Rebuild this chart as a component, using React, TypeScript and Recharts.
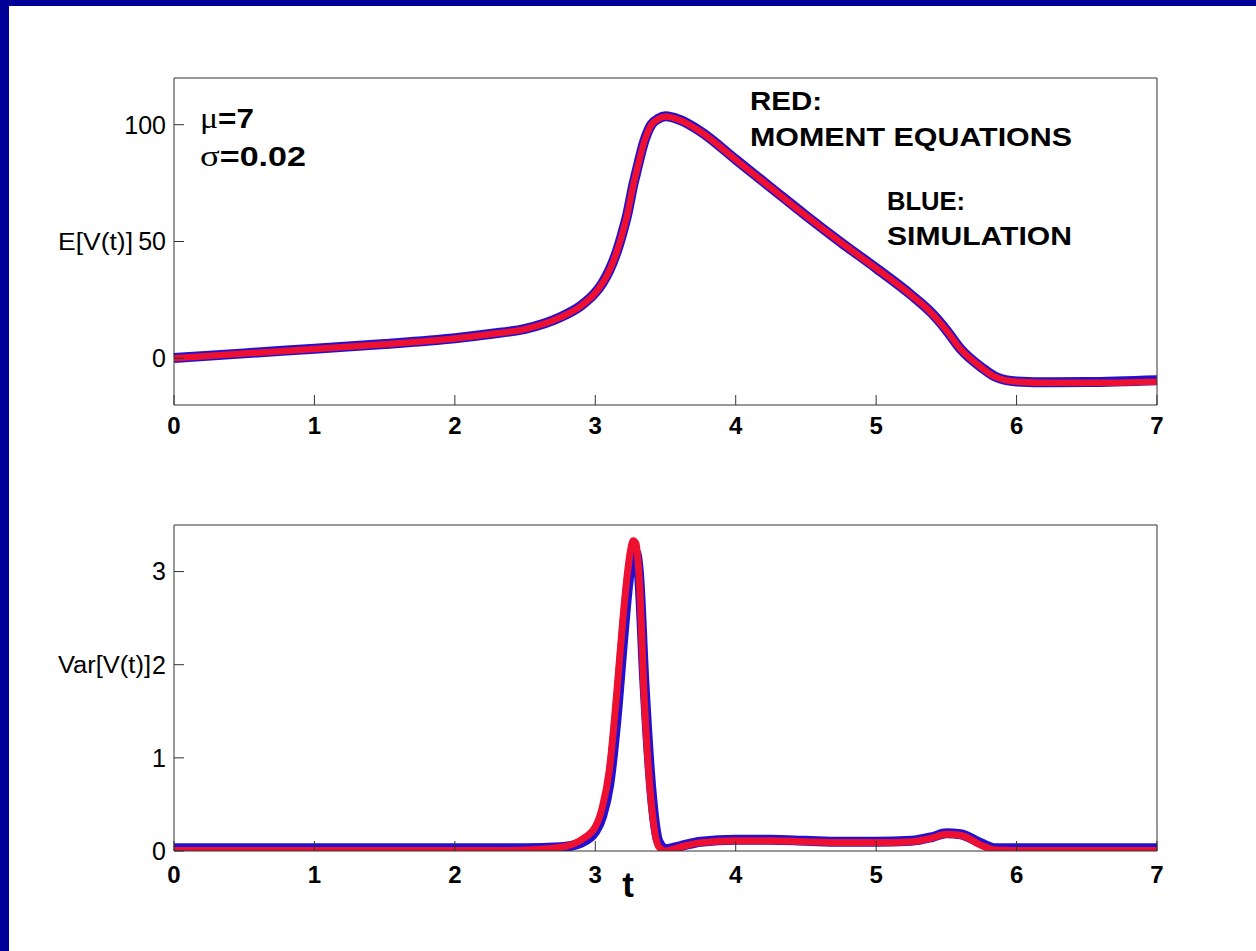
import React from 'react';
import { LineChart, Line, XAxis, YAxis } from 'recharts';

const T = [0, 0.5, 1, 1.5, 2, 2.25, 2.5, 2.75, 2.9, 3.0, 3.05, 3.1, 3.15, 3.2, 3.23, 3.25, 3.27, 3.29, 3.31, 3.35, 3.4, 3.45, 3.5, 3.6, 3.75, 4, 4.25, 4.5, 4.75, 5, 5.25, 5.4, 5.5, 5.6, 5.75, 5.85, 6, 6.25, 6.5, 7];

const MEAN_RED = [0, 2, 4, 6, 8.5, 10.3, 12.5, 17.5, 22.5, 28, 32, 37.5, 45, 55, 62, 68, 74, 79, 84, 93, 100, 102.5, 103.5, 102, 97, 85, 73, 61, 49.5, 38.5, 27, 19, 12, 4, -4, -8, -10, -10.5, -10.5, -10];
const MEAN_BLUE = [0.1, 2.1, 4.1, 6.1, 8.6, 10.4, 12.6, 17.6, 22.6, 28.1, 32.1, 37.6, 45.1, 55.1, 62.1, 68.1, 74.1, 79.1, 84.1, 93.1, 100.1, 102.6, 103.6, 102.1, 97.1, 85.1, 73.1, 61.1, 49.6, 38.6, 27.1, 19.1, 12.1, 4.1, -3.9, -7.9, -9.9, -10.3, -10.2, -9.4];

const VAR_RED = [0.005, 0.005, 0.005, 0.005, 0.005, 0.005, 0.01, 0.04, 0.12, 0.26, 0.47, 0.87, 1.65, 2.55, 3.0, 3.22, 3.33, 3.3, 3.0, 1.6, 0.5, 0.05, 0.0, 0.04, 0.09, 0.11, 0.11, 0.1, 0.09, 0.09, 0.1, 0.14, 0.18, 0.17, 0.06, 0.01, 0.005, 0.005, 0.005, 0.005];
const VAR_BLUE = [0.03, 0.03, 0.03, 0.03, 0.03, 0.03, 0.03, 0.04, 0.09, 0.21, 0.38, 0.72, 1.4, 2.3, 2.8, 3.05, 3.2, 3.2, 3.0, 1.8, 0.65, 0.1, 0.02, 0.05, 0.1, 0.12, 0.12, 0.11, 0.1, 0.1, 0.11, 0.15, 0.19, 0.18, 0.08, 0.03, 0.03, 0.03, 0.03, 0.03];

const X_TICKS = [0, 1, 2, 3, 4, 5, 6, 7];
const MEAN_TICKS = [0, 50, 100];
const VAR_TICKS = [0, 1, 2, 3];

const meanData = T.map((t, i) => ({ t, red: MEAN_RED[i], blue: MEAN_BLUE[i] }));
const varData = T.map((t, i) => ({ t, red: VAR_RED[i], blue: VAR_BLUE[i] }));

const FONT = '"Liberation Sans", Arial, Helvetica, sans-serif';
const AX = '#333333';
const RED = '#ee1030';
const BLUE = '#2410d0';
const xTickStyle = { fill: '#000', fontSize: 24, fontFamily: FONT, fontWeight: 'bold' };
const yTickStyle = { fill: '#000', fontSize: 25, fontFamily: FONT };

// plot area: left 174, right 1157
function Panel({ data, domain, yTicks, top, height, plotTop, plotBottom, xMargin, redW, blueW }: any) {
  const m = { top: plotTop - 30, right: 1256 - 1157 - 60, bottom: height - plotBottom - 30, left: 174 - 60 };
  return (
    <div style={{ position: 'absolute', left: 0, top, width: 1256, height }}>
      <LineChart width={1256} height={height} data={data} margin={m}>
        <XAxis dataKey="t" type="number" domain={[0, 7]} ticks={X_TICKS} xAxisId={0} height={30}
          stroke={AX} tickSize={-10} tickMargin={xMargin} tick={xTickStyle} interval={0} />
        <XAxis dataKey="t" type="number" domain={[0, 7]} ticks={X_TICKS} xAxisId="top" orientation="top" height={30}
          stroke={AX} tickSize={-10} tick={false} interval={0} />
        <YAxis type="number" domain={domain} ticks={yTicks} yAxisId={0} width={60}
          stroke={AX} tickSize={-10} tickMargin={18} tick={yTickStyle} interval={0} allowDataOverflow />
        <YAxis type="number" domain={domain} ticks={yTicks} yAxisId="right" orientation="right" width={60}
          stroke={AX} tickSize={-10} tick={false} interval={0} allowDataOverflow />
        <Line type="monotone" dataKey="blue" xAxisId={0} yAxisId={0} stroke={BLUE} strokeWidth={blueW} dot={false} isAnimationActive={false} />
        <Line type="monotone" dataKey="red" xAxisId={0} yAxisId={0} stroke={RED} strokeWidth={redW} dot={false} isAnimationActive={false} />
      </LineChart>
    </div>
  );
}

const SERIF = '"Liberation Serif", "Times New Roman", serif';

export default function App() {
  return (
    <div style={{ position: 'absolute', left: 0, top: 0, width: 1256, height: 951, background: '#000099', overflow: 'hidden' }}>
      <div style={{ position: 'absolute', left: 9, top: 6, width: 1247, height: 945, background: '#ffffff' }} />
      <Panel data={meanData} domain={[-20, 120]} yTicks={MEAN_TICKS} top={0} height={470} plotTop={78} plotBottom={405} xMargin={22} redW={6.5} blueW={10} />
      <Panel data={varData} domain={[0, 3.5]} yTicks={VAR_TICKS} top={480} height={471} plotTop={45} plotBottom={371} xMargin={25} redW={7} blueW={10} />
      <svg width={1256} height={951} style={{ position: 'absolute', left: 0, top: 0, pointerEvents: 'none' }}>
        <g fontFamily={FONT} fill="#000">
          <text x={200} y={128} fontSize={27} fontWeight="bold" textLength={54} lengthAdjust="spacingAndGlyphs">
            <tspan fontFamily={SERIF} fontWeight="normal" fontSize={29}>μ</tspan>=7
          </text>
          <text x={200} y={166} fontSize={27} fontWeight="bold" textLength={106} lengthAdjust="spacingAndGlyphs">
            <tspan fontFamily={SERIF} fontWeight="normal" fontSize={29}>σ</tspan>=0.02
          </text>
          <text x={750} y={110} fontSize={25} fontWeight="bold" textLength={72} lengthAdjust="spacingAndGlyphs">RED:</text>
          <text x={750} y={146} fontSize={25} fontWeight="bold" textLength={322} lengthAdjust="spacingAndGlyphs">MOMENT EQUATIONS</text>
          <text x={887} y={210} fontSize={25} fontWeight="bold" textLength={78} lengthAdjust="spacingAndGlyphs">BLUE:</text>
          <text x={887} y={245} fontSize={25} fontWeight="bold" textLength={185} lengthAdjust="spacingAndGlyphs">SIMULATION</text>
          <text x={58} y={250} fontSize={23} textLength={75} lengthAdjust="spacingAndGlyphs">E[V(t)]</text>
          <text x={58} y={673} fontSize={23} textLength={93} lengthAdjust="spacingAndGlyphs">Var[V(t)]</text>
          <text x={628} y={897} fontSize={35} fontWeight="bold" textAnchor="middle">t</text>
        </g>
      </svg>
    </div>
  );
}
